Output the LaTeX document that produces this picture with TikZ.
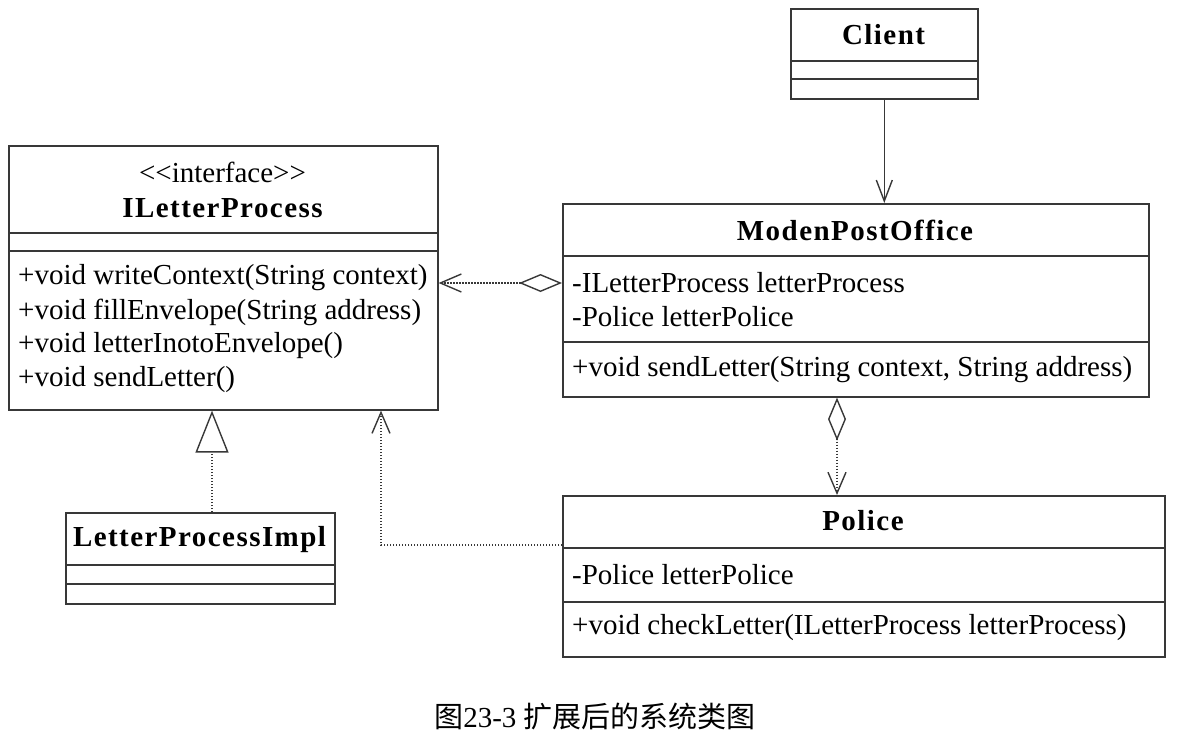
\documentclass[tikz,border=0pt]{standalone}
\usepackage{fontspec}
\setmainfont{Liberation Serif}
\newfontfamily\namefont{Liberation Serif}[LetterSpace=5]
\newfontfamily\cjk{Noto Sans CJK SC}
\usetikzlibrary{arrows.meta,positioning}
\colorlet{umlgray}{black!78}

\begin{document}
\begin{tikzpicture}[x=1pt,y=-1pt,
        classbox/.style={draw=umlgray, line width=1.6pt, anchor=north west, inner sep=0pt},
        classname/.style={inner sep=0pt, font=\namefont\bfseries\fontsize{29}{34}\selectfont},
        member/.style={anchor=west, inner sep=0pt, font=\fontsize{29}{34}\selectfont},
        link/.style={umlgray, line width=1.5pt},
        dots/.style={link, dash pattern=on 1.5pt off 1.5pt},
        assoc/.style={link, -{Straight Barb[length=21pt,width=16pt,line width=1.4pt]}},
        aggr/.style={dots, {Diamond[open,length=43pt,width=18pt,line width=1.4pt]}-{Straight Barb[length=21pt,width=18pt,line width=1.4pt]}},
        realize/.style={dots, -{Triangle[open,length=42pt,width=33pt,line width=1.4pt]}},
        depend/.style={dots, -{Straight Barb[length=21pt,width=18pt,line width=1.4pt]}}]
        \useasboundingbox (0,0) rectangle (1190,737);
        % Class boxes
        \node[classbox, minimum width=187pt, minimum height=90pt] (client) at (790,8) {};
        \node[classbox, minimum width=429pt, minimum height=264pt] (iletter) at (8,145) {};
        \node[classbox, minimum width=586pt, minimum height=193pt] (office) at (562,203) {};
        \node[classbox, minimum width=602pt, minimum height=161pt] (police) at (562,495) {};
        \node[classbox, minimum width=269pt, minimum height=91pt] (impl) at (65,512) {};
        % Compartments
        \foreach \n/\d in {client/53pt, client/71pt, iletter/88pt, iletter/106pt, office/53pt,
                office/139pt, police/53pt, police/107pt, impl/53pt, impl/72pt}
            \draw[umlgray, line width=1.6pt] ([yshift=-\d]\n.north west) -- ([yshift=-\d]\n.north east);
        % Names
        \node[classname] (clientname) at (883.5,35) {Client};
        \node[inner sep=0pt, font=\fontsize{29}{34}\selectfont] (stereo) at (222.5,172) {<{}<interface>{}>};
        \node[classname] (iletname) at (222.5,208) {ILetterProcess};
        \node[classname] (officename) at (855,230) {ModenPostOffice};
        \node[classname] (policename) at (863,521) {Police};
        \node[classname] (implname) at (199.5,540) {LetterProcessImpl};
        % Members
        \foreach \t [count=\i] in {+void writeContext(String context), +void fillEnvelope(String address),
                +void letterInotoEnvelope(), +void sendLetter()}
            \node[member] (op\i) at (18,244+34*\i) {\t};
        \node[member] (attr1) at (572,283) {-ILetterProcess letterProcess};
        \node[member] (attr2) at (572,317) {-Police letterPolice};
        \node[member] (send) at (572,370) {+void sendLetter(String context, String address)};
        \node[member] (attr3) at (572,575) {-Police letterPolice};
        \node[member] (check) at (572,628) {+void checkLetter(ILetterProcess letterProcess)};
        % Relations
        \coordinate (aggtop) at ([xshift=275pt]office.south west);
        \coordinate (realbot) at ([xshift=147pt]impl.north west);
        \coordinate (deptip) at ([xshift=373pt]iletter.south west);
        \draw[assoc] (client.south) -- (client.south |- office.north);
        \draw[aggr] (office.west |- 0,283) -- (iletter.east |- 0,283);
        \draw[aggr] (aggtop) -- (aggtop |- police.north);
        \draw[realize] (realbot) -- (realbot |- iletter.south);
        \draw[depend] ([yshift=-50pt]police.north west) -| (deptip);
        % Caption
        \node[inner sep=0pt, font=\fontsize{29}{34}\selectfont] (caption) at (595,716) {{\cjk 图}23-3 {\cjk 扩展后的系统类图}};
    \end{tikzpicture}
\end{document}
